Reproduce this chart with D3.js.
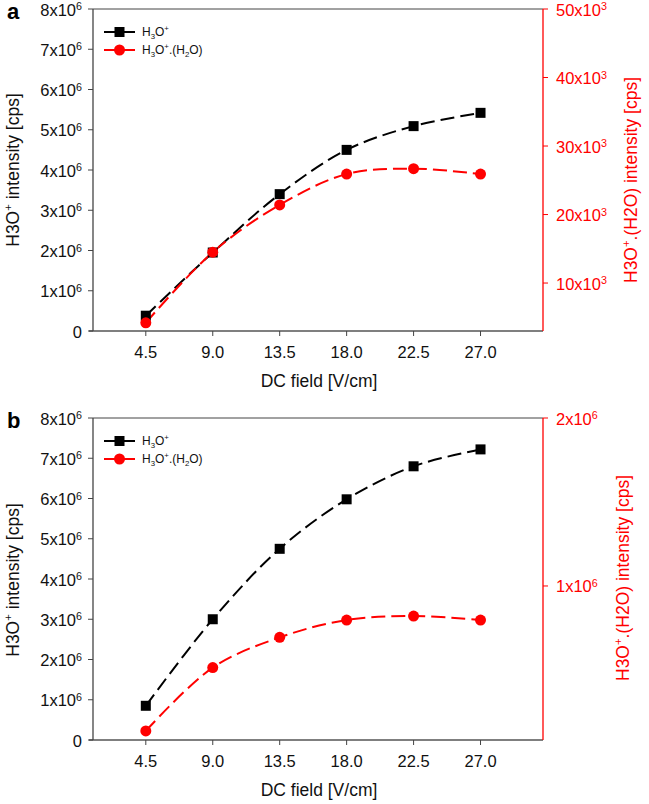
<!DOCTYPE html>
<html><head><meta charset="utf-8">
<script src="https://cdn.jsdelivr.net/npm/d3@7"></script>
<style>
body{margin:0;background:#fff;}
svg{display:block;font-family:"Liberation Sans",Arial,sans-serif;}
</style></head>
<body><svg id="c" width="649" height="804"></svg>
<script>
// ---- data ----
const dcField = [4.5, 9.0, 13.5, 18.0, 22.5, 27.0];
const xTickLabels = ["4.5", "9.0", "13.5", "18.0", "22.5", "27.0"];

const aH3O = [0.38e6, 1.95e6, 3.40e6, 4.50e6, 5.09e6, 5.42e6];
const aH3OH2O = [4200, 14500, 21400, 25900, 26700, 25900];
const aLeftTicks = [0,1,2,3,4,5,6,7,8];          // x10^6
const aRightTicks = [10,20,30,40,50];            // x10^3

const bH3O = [0.85e6, 3.00e6, 4.75e6, 5.98e6, 6.80e6, 7.22e6];
const bH3OH2O = [137000, 514000, 694000, 797000, 821000, 797000];
const bLeftTicks = [0,1,2,3,4,5,6,7,8];          // x10^6
const bRightTicks = [1,2];                       // x10^6

const svg = d3.select("#c");
const RED = "#ff0000";
const TICK_FS = 16.5, TITLE_FS = 17.5;

function richText(sel, parts, baseSize, supShift){
  const ss = supShift || 0.4;
  parts.forEach(p=>{
    const t = sel.append("tspan").text(p[0]);
    if(p[1]==="sup"){ t.attr("font-size", baseSize*0.65).attr("dy", -baseSize*ss); }
    else if(p[1]==="sub"){ t.attr("font-size", baseSize*0.65).attr("dy", baseSize*0.25); }
    else if(p[1]==="n_up"){ t.attr("dy", baseSize*ss); }
    else if(p[1]==="n_dn"){ t.attr("dy", -baseSize*0.25); }
  });
}

function panel(cfg){
  const L=93, R=543, T=cfg.top, B=cfg.bottom;
  const x = d3.scaleLinear().domain([0.95, 31.2]).range([L, R]);
  const yL = d3.scaleLinear().domain([0, 8e6]).range([B, T]);
  const yR = d3.scaleLinear().domain(cfg.rightDomain).range([B, T]);
  const g = svg.append("g");

  g.append("line").attr("x1",L).attr("x2",R).attr("y1",T).attr("y2",T).attr("stroke","#444").attr("stroke-width",1);
  g.append("line").attr("x1",L-4).attr("x2",R).attr("y1",B).attr("y2",B).attr("stroke","#555").attr("stroke-width",1.3);
  g.append("line").attr("x1",L).attr("x2",L).attr("y1",T).attr("y2",B).attr("stroke","#444").attr("stroke-width",1.3);
  g.append("line").attr("x1",R).attr("x2",R).attr("y1",T).attr("y2",B).attr("stroke",RED).attr("stroke-width",1.3);

  dcField.forEach((v,i)=>{
    g.append("line").attr("x1",x(v)).attr("x2",x(v)).attr("y1",B).attr("y2",B+5).attr("stroke","#444");
    g.append("text").attr("x",x(v)).attr("y",B+27).attr("text-anchor","middle")
      .attr("font-size",TICK_FS).attr("fill","#111").text(xTickLabels[i]);
  });
  g.append("text").attr("x",319).attr("y",B+56).attr("text-anchor","middle")
    .attr("font-size",TITLE_FS).attr("fill","#111").text("DC field [V/cm]");

  cfg.leftTicks.forEach(v=>{
    const yy = yL(v*1e6);
    g.append("line").attr("x1",L-5).attr("x2",L).attr("y1",yy).attr("y2",yy).attr("stroke","#444");
    const t = g.append("text").attr("x",82).attr("y",yy+6.5).attr("text-anchor","end")
      .attr("font-size",TICK_FS).attr("fill","#111");
    if(v===0) t.text("0");
    else richText(t, [[v+"x10","n"],["6","sup"]], TICK_FS, 0.33);
  });

  cfg.rightTicks.forEach(v=>{
    const yy = yR(v*cfg.rightMult);
    g.append("line").attr("x1",R).attr("x2",R+5).attr("y1",yy).attr("y2",yy).attr("stroke",RED);
    const t = g.append("text").attr("x",R+13).attr("y",yy+6.5).attr("text-anchor","start")
      .attr("font-size",TICK_FS).attr("fill",RED);
    richText(t, [[v+"x10","n"],[cfg.rightExp,"sup"]], TICK_FS, 0.33);
  });

  const lt = g.append("text").attr("transform",`translate(${cfg.leftTitleX},${cfg.leftTitleY}) rotate(-90)`)
    .attr("text-anchor","middle").attr("font-size",TITLE_FS).attr("fill","#111");
  richText(lt, [["H3O","n"],["+","sup"],[" intensity [cps]","n_up"]], TITLE_FS);
  const rt = g.append("text").attr("transform",`translate(${cfg.rightTitleX},${cfg.rightTitleY}) rotate(-90)`)
    .attr("text-anchor","middle").attr("font-size",TITLE_FS).attr("fill",RED);
  richText(rt, [["H3O","n"],["+","sup"],[".(H2O) intensity [cps]","n_up"]], TITLE_FS);

  g.append("text").attr("x",7).attr("y",T+10).attr("font-size",22).attr("font-weight","bold").attr("fill","#000").text(cfg.letter);

  const lineL = d3.line().x((d,i)=>x(dcField[i])).y(d=>yL(d)).curve(d3.curveCatmullRom.alpha(0.5));
  const lineR = d3.line().x((d,i)=>x(dcField[i])).y(d=>yR(d)).curve(d3.curveCatmullRom.alpha(0.5));
  g.append("path").attr("d",lineL(cfg.black)).attr("fill","none").attr("stroke","#000")
    .attr("stroke-width",2).attr("stroke-dasharray","14,6");
  g.append("path").attr("d",lineR(cfg.red)).attr("fill","none").attr("stroke",RED)
    .attr("stroke-width",2).attr("stroke-dasharray","14,6");

  cfg.black.forEach((d,i)=>{
    g.append("rect").attr("x",x(dcField[i])-5).attr("y",yL(d)-5).attr("width",10).attr("height",10).attr("fill","#000");
  });
  cfg.red.forEach((d,i)=>{
    g.append("circle").attr("cx",x(dcField[i])).attr("cy",yR(d)).attr("r",5.5).attr("fill",RED);
  });

  const lx1=104, lx2=135, ly1=T+23, ly2=T+41;
  g.append("line").attr("x1",lx1).attr("x2",lx2).attr("y1",ly1).attr("y2",ly1).attr("stroke","#000").attr("stroke-width",2);
  g.append("rect").attr("x",(lx1+lx2)/2-5).attr("y",ly1-5).attr("width",10).attr("height",10).attr("fill","#000");
  g.append("line").attr("x1",lx1).attr("x2",lx2).attr("y1",ly2).attr("y2",ly2).attr("stroke",RED).attr("stroke-width",2);
  g.append("circle").attr("cx",(lx1+lx2)/2).attr("cy",ly2).attr("r",5.5).attr("fill",RED);
  const t1 = g.append("text").attr("x",142).attr("y",ly1+4).attr("font-size",12).attr("fill","#111");
  richText(t1, [["H","n"],["3","sub"],["O","n_dn"],["+","sup"]], 12);
  const t2 = g.append("text").attr("x",142).attr("y",ly2+4).attr("font-size",12).attr("fill","#111");
  richText(t2, [["H","n"],["3","sub"],["O","n_dn"],["+","sup"],[".(H","n_up"],["2","sub"],["O)","n_dn"]], 12);
}

panel({letter:"a", top:9, bottom:331, black:aH3O, red:aH3OH2O,
  rightDomain:[3000, 50000], leftTicks:aLeftTicks, rightTicks:aRightTicks, rightMult:1e3, rightExp:"3",
  leftTitleX:19, leftTitleY:170, rightTitleX:637, rightTitleY:180});
panel({letter:"b", top:418, bottom:740, black:bH3O, red:bH3OH2O,
  rightDomain:[83000, 2000000], leftTicks:bLeftTicks, rightTicks:bRightTicks, rightMult:1e6, rightExp:"6",
  leftTitleX:19, leftTitleY:580, rightTitleX:629, rightTitleY:578});
</script></body></html>
